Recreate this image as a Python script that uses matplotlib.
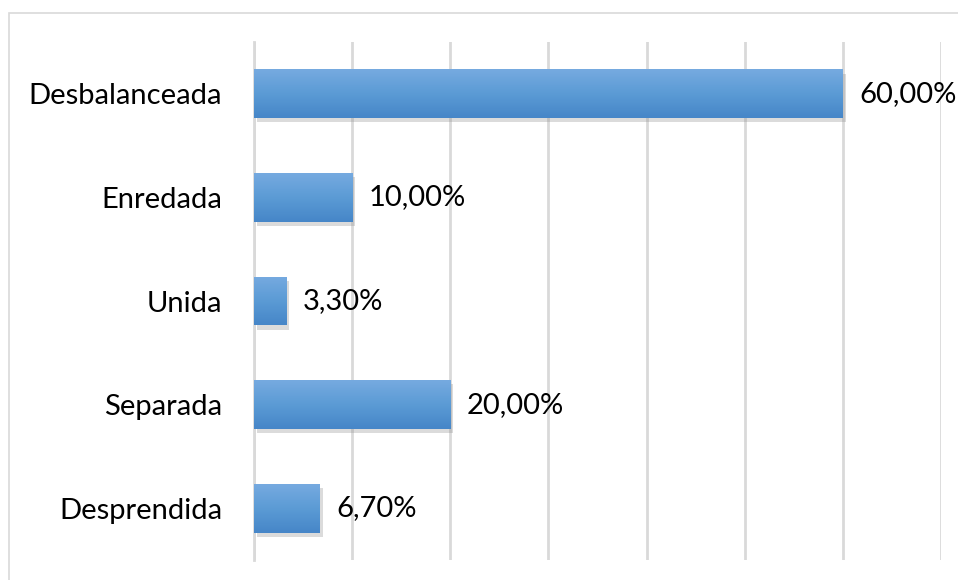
import numpy as np
import matplotlib
matplotlib.use("Agg")
import matplotlib.pyplot as plt
import matplotlib.patheffects as pe
from matplotlib.colors import LinearSegmentedColormap
from matplotlib.patches import Rectangle

plt.rcParams["font.family"] = ["Lato", "DejaVu Sans"]

categorias = ["Desbalanceada", "Enredada", "Unida", "Separada", "Desprendida"]
valores = [0.60, 0.10, 0.033, 0.20, 0.067]
etiquetas = ["60,00%", "10,00%", "3,30%", "20,00%", "6,70%"]

fig = plt.figure(figsize=(9.58, 5.8), dpi=100)
ax = fig.add_axes([254 / 958, 20 / 580, (941 - 254) / 958, (560 - 42) / 580])

# borde del gráfico
fig.patches.append(Rectangle((9 / 958, -0.01), 1.0, (580 - 13) / 580 + 0.01,
                             transform=fig.transFigure, fill=False,
                             edgecolor="#d9d9d9", lw=1.2, zorder=0))

y = np.arange(len(categorias))
barras = ax.barh(y, valores, height=0.47, color="#5b9bd5", zorder=3)

# degradado tipo Excel con sombra
cmap = LinearSegmentedColormap.from_list("azul", ["#76aae0", "#5b9bd5", "#4686c8"])
grad = np.linspace(0, 1, 100).reshape(-1, 1)
for b in barras:
    b.set_path_effects([pe.SimplePatchShadow(offset=(2, -3), shadow_rgbFace="#8a8a8a", alpha=0.3),
                        pe.Normal()])
    x0, y0 = b.get_x(), b.get_y()
    w, h = b.get_width(), b.get_height()
    im = ax.imshow(grad, cmap=cmap, aspect="auto", extent=[x0, x0 + w, y0 + h, y0],
                   zorder=4, interpolation="bilinear")
    im.set_clip_path(b)

for yi, v, t in zip(y, valores, etiquetas):
    ax.text(v + 0.0165, yi, t, va="center", ha="left", fontsize=21, color="#000000", zorder=5)

ax.set_xlim(0, 0.7)
ax.set_ylim(4.5, -0.5)
ax.set_xticks(np.arange(0, 0.71, 0.1))
ax.set_xticklabels([])
ax.grid(axis="x", color="#d9d9d9", lw=2, zorder=0)
ax.tick_params(axis="x", length=0)
ax.tick_params(axis="y", length=0, pad=23, labelsize=21)
ax.set_yticks(y)
ax.set_yticklabels(categorias)
for s in ["top", "right", "bottom"]:
    ax.spines[s].set_visible(False)
ax.spines["left"].set_color("#d9d9d9")
ax.spines["left"].set_linewidth(2)

fig.savefig("out.png", dpi=100)
